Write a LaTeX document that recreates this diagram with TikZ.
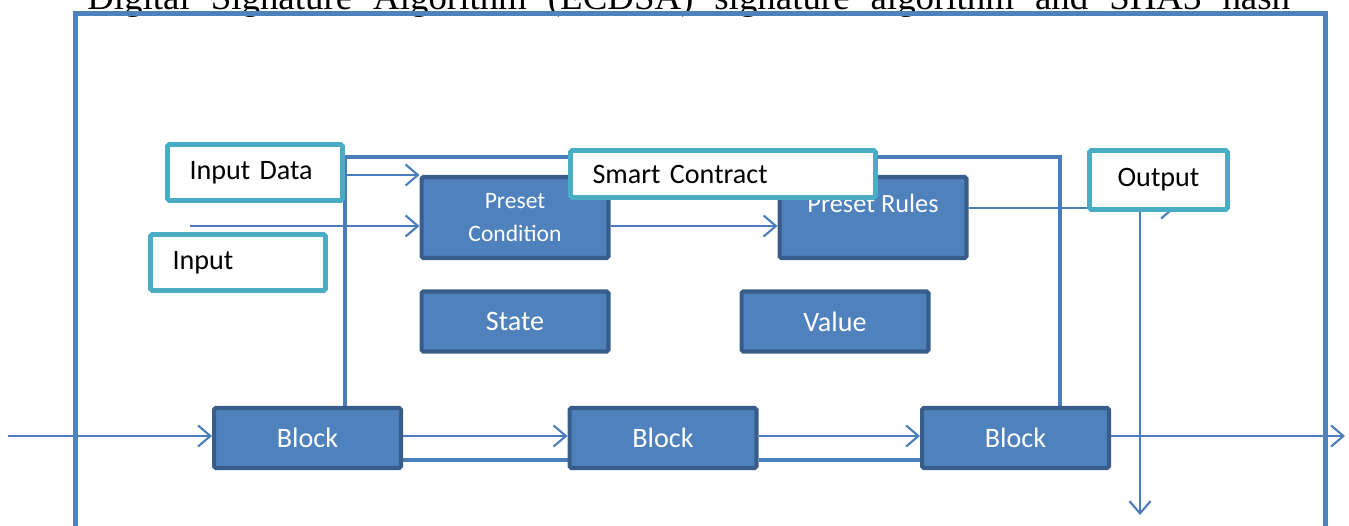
\documentclass[tikz,border=0pt]{standalone}
\usepackage{fontspec}
\setmainfont{Carlito}
\newfontfamily\titlefont{Liberation Serif}
\usepackage{xcolor}
\usetikzlibrary{arrows.meta,backgrounds}

\definecolor{boxblue}{HTML}{4F81BD}
\definecolor{boxedge}{HTML}{385D8A}
\definecolor{tealedge}{HTML}{4BACC6}
\definecolor{linkblue}{HTML}{4A7EBB}

\tikzset{
  wbox/.style={draw=tealedge,line width=2.8pt,fill=white,rounded corners=1pt,
    font=\fontsize{16}{19}\selectfont},
  wleft/.style={wbox,align=left,inner xsep=0.44cm,text width=#1,minimum height=1.12cm},
  bbox/.style={draw=boxedge,line width=2.3pt,fill=boxblue,text=white,rounded corners=1pt,
    minimum width=3.74cm,minimum height=1.2cm,align=center,font=\fontsize{16}{19}\selectfont},
  conn/.style={draw=linkblue,line width=1.2pt,-{Straight Barb[length=7pt,width=12pt,line width=1.2pt]}},
  link/.style={draw=linkblue,line width=2.3pt},
  frame/.style={draw=boxblue,line width=2.8pt}
}

\begin{document}
\begin{tikzpicture}[x=0.02cm,y=-0.02cm]
  \useasboundingbox (0,0) rectangle (1349,526);
  \clip (0,0) rectangle (1349,526);

  % heading line, cut by the page top
  \node[anchor=base west,inner sep=0] (title) at (87,10)
    {\titlefont\fontsize{21}{24}\selectfont\makebox[24.06cm][s]{Digital Signature Algorithm (ECDSA) signature algorithm and SHA3 hash}};
  \draw[frame] (75.5,540) |- (1325.5,13.5) -- (1325.5,540);

  % contract parts
  \node[bbox,minimum height=1.62cm,font=\fontsize{13.4}{19}\selectfont] (precond) at (515,217.5) {Preset\\Condition};
  \node[bbox,minimum height=1.62cm,font=\fontsize{15}{16}\selectfont] (prerules) at (873,217.5) {Preset Rules\\\mbox{}};
  \node[bbox] (state) at (515,321.5) {State};
  \node[bbox] (value) at (835,321.5) {Value};

  % chain
  \node[bbox] (block1) at (307.5,438) {Block};
  \node[bbox] (block2) at (663,438) {Block};
  \node[bbox] (block3) at (1015.5,438) {Block};

  % labels
  \node[wleft=2.62cm] (indata) at (255,172.5) {Input Data};
  \node[wleft=2.62cm] (input) at (238,262.5) {Input};
  \node[wleft=5.22cm,minimum height=0.94cm] (smart) at (723,174) {Smart Contract};
  \node[wbox,minimum width=2.76cm,minimum height=1.18cm] (output) at (1158.5,180) {Output};

  \coordinate (sccorner) at (1060,157);
  \coordinate (infree) at (190,226);
  \coordinate (outtip) at (1175,208);
  \coordinate (outend) at (1140,515);
  \coordinate (chainin) at (8,436);
  \coordinate (chainout) at (1345,436);

  \begin{pgfonlayer}{background}
    \draw[link] (block1.north -| indata.east) |- (sccorner) -- (sccorner |- block3.north);
    \draw[conn] (indata.east |- 0,175) -- (precond.west |- 0,175);
    \draw[conn] (infree) -- (infree -| precond.west);
    \draw[conn] (precond.east |- infree) -- (prerules.west |- infree);
    \draw[conn] (prerules.east |- outtip) -- (outtip);
    \draw[conn,line width=1pt] (outend |- output.south) -- (outend);
    \draw[conn] (chainin) -- (chainin -| block1.west);
    \draw[conn] (block1.east |- chainin) -- (block2.west |- chainin);
    \draw[conn] (block2.east |- chainin) -- (block3.west |- chainin);
    \draw[conn] (block3.east |- chainin) -- (chainout);
    \draw[link,line width=1.8pt] (block1.east |- 0,460) -- (block2.west |- 0,460);
    \draw[link,line width=1.8pt] (block2.east |- 0,460) -- (block3.west |- 0,460);
  \end{pgfonlayer}
\end{tikzpicture}
\end{document}
